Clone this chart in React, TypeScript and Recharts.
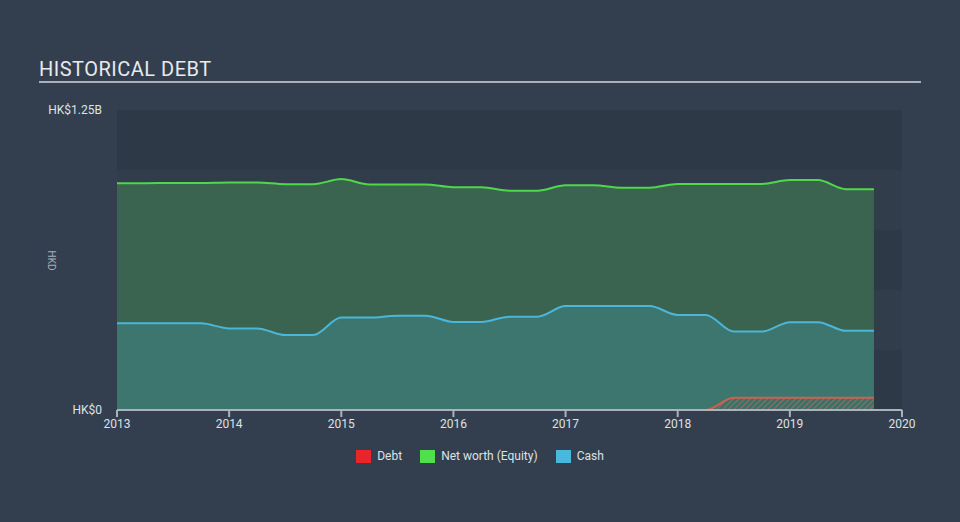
import React from 'react'
import {
  AreaChart,
  Area,
  XAxis,
  YAxis,
  ReferenceArea,
} from 'recharts'

// quarterly reporting dates (fractional years)
const quarters = [
  2013, 2013.25, 2013.5, 2013.75,
  2014, 2014.25, 2014.5, 2014.75,
  2015, 2015.25, 2015.5, 2015.75,
  2016, 2016.25, 2016.5, 2016.75,
  2017, 2017.25, 2017.5, 2017.75,
  2018, 2018.25, 2018.5, 2018.75,
  2019, 2019.25, 2019.5, 2019.75,
]

// values in HK$ billions
const netWorth = [
  0.945, 0.945, 0.946, 0.946,
  0.948, 0.948, 0.941, 0.941,
  0.962, 0.94, 0.94, 0.94,
  0.928, 0.928, 0.914, 0.914,
  0.936, 0.936, 0.926, 0.926,
  0.942, 0.942, 0.942, 0.942,
  0.958, 0.958, 0.92, 0.92,
]

const cash = [
  0.361, 0.361, 0.361, 0.361,
  0.34, 0.34, 0.3125, 0.3125,
  0.385, 0.385, 0.393, 0.393,
  0.367, 0.367, 0.389, 0.389,
  0.433, 0.433, 0.433, 0.433,
  0.396, 0.396, 0.327, 0.327,
  0.366, 0.366, 0.33, 0.33,
]

const debt = [
  0, 0, 0, 0,
  0, 0, 0, 0,
  0, 0, 0, 0,
  0, 0, 0, 0,
  0, 0, 0, 0,
  0, 0, 0.051, 0.051,
  0.051, 0.051, 0.051, 0.051,
]

const yearTicks = [2013, 2014, 2015, 2016, 2017, 2018, 2019, 2020]
const valueTicks = [0, 1.25]
const bandEdges = [0, 0.25, 0.5, 0.75, 1, 1.25]

const data = quarters.map((t, i) => ({
  t,
  netWorth: netWorth[i],
  cash: cash[i],
  debt: debt[i],
}))

const legendItems = [
  { name: 'Debt', color: '#e8262a' },
  { name: 'Net worth (Equity)', color: '#4fe04b' },
  { name: 'Cash', color: '#48b8dc' },
]

const font = 'Roboto, "Open Sans", sans-serif'

function ChartLegend() {
  return (
    <div
      style={{
        position: 'absolute',
        left: 0,
        top: 449,
        width: 960,
        display: 'flex',
        justifyContent: 'center',
        fontSize: 12,
        color: '#dde2e6',
      }}
    >
      {legendItems.map((it) => (
        <div key={it.name} style={{ display: 'flex', alignItems: 'center', margin: '0 9px' }}>
          <span style={{ width: 15, height: 13, background: it.color, display: 'inline-block', marginRight: 6 }} />
          <span>{it.name}</span>
        </div>
      ))}
    </div>
  )
}

function fmt(v: number) {
  return v === 0 ? 'HK$0' : `HK$${v}B`
}

export default function App() {
  return (
    <div
      style={{
        position: 'fixed',
        left: 0,
        top: 0,
        width: 960,
        height: 522,
        background: '#333f4e',
        fontFamily: font,
      }}
    >
      <div
        style={{
          position: 'absolute',
          left: 39,
          top: 57,
          fontSize: 20,
          color: '#e8eaec',
          letterSpacing: 0.5,
        }}
      >
        HISTORICAL DEBT
      </div>
      <div style={{ position: 'absolute', left: 39, top: 81, width: 882, height: 2, background: '#a9b0b8' }} />
      <div
        style={{
          position: 'absolute',
          left: 42,
          top: 255,
          fontSize: 10,
          color: '#a7afb8',
          transform: 'rotate(90deg)',
          transformOrigin: 'center',
        }}
      >
        HKD
      </div>
      <AreaChart
        width={960}
        height={522}
        data={data}
        margin={{ top: 110, right: 58, bottom: 82, left: 57 }}
        style={{ position: 'absolute', left: 0, top: 0 }}
      >
        <defs>
          <pattern id="debtHatch" width="4" height="4" patternUnits="userSpaceOnUse" patternTransform="rotate(45)">
            <rect width="4" height="4" fill="#3d7068" />
            <line x1="0" y1="0" x2="0" y2="4" stroke="#b0705a" strokeWidth="1.5" />
          </pattern>
        </defs>
        {bandEdges.slice(0, -1).map((b, i) => (
          <ReferenceArea
            key={b}
            x1={2013}
            x2={2020}
            y1={b}
            y2={bandEdges[i + 1]}
            fill={i % 2 === 0 ? '#2d3946' : '#313d4b'}
            fillOpacity={1}
            stroke="none"
            ifOverflow="visible"
          />
        ))}
        <XAxis
          dataKey="t"
          type="number"
          domain={[2013, 2020]}
          ticks={yearTicks}
          tick={{ fill: '#dde2e6', fontSize: 12, fontFamily: font }}
          axisLine={{ stroke: '#aab3bc', strokeWidth: 2 }}
          tickLine={{ stroke: '#aab3bc', strokeWidth: 2 }}
          tickSize={7}
          tickMargin={2}
          height={30}
          allowDecimals
        />
        <YAxis
          type="number"
          domain={[0, 1.25]}
          ticks={valueTicks}
          tickFormatter={fmt}
          tick={{ fill: '#dde2e6', fontSize: 12, fontFamily: font }}
          axisLine={false}
          tickLine={false}
          tickMargin={9}
          width={60}
        />
        <Area
          type="monotone"
          dataKey="netWorth"
          stroke="#4fd84a"
          strokeWidth={2}
          fill="#3a6450"
          fillOpacity={1}
          isAnimationActive={false}
          dot={false}
          activeDot={false}
        />
        <Area
          type="monotone"
          dataKey="cash"
          stroke="#4bb6d8"
          strokeWidth={2}
          fill="#3d756f"
          fillOpacity={1}
          isAnimationActive={false}
          dot={false}
          activeDot={false}
        />
        <Area
          type="monotone"
          dataKey="debt"
          stroke="#d2604c"
          strokeWidth={2}
          fill="url(#debtHatch)"
          fillOpacity={1}
          isAnimationActive={false}
          dot={false}
          activeDot={false}
        />
      </AreaChart>
      <ChartLegend />
    </div>
  )
}
